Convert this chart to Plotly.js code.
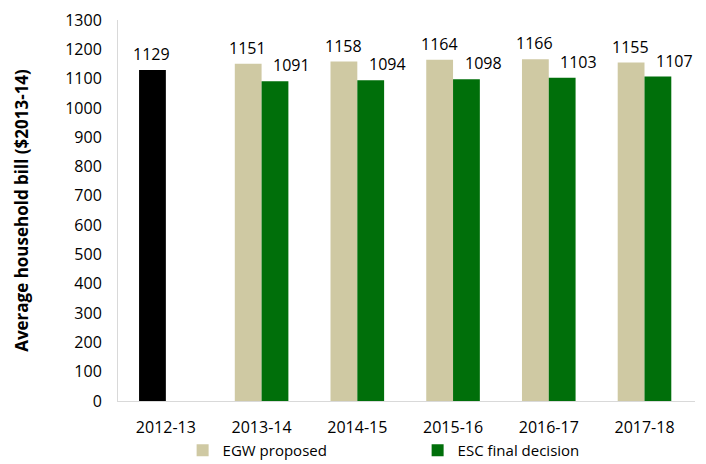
<!DOCTYPE html>
<html><head><meta charset="utf-8">
<script src="https://cdn.plot.ly/plotly-3.0.1.min.js"></script>
<style>html,body{margin:0;padding:0;background:#fff}</style>
</head><body>
<div id="chart" style="width:706px;height:464px"></div>
<script>
const categories = ['2012-13','2013-14','2014-15','2015-16','2016-17','2017-18'];
const actualBill = [1129, null, null, null, null, null];
const egwProposed = [null, 1151, 1158, 1164, 1166, 1155];
const escFinal = [null, 1091, 1094, 1098, 1103, 1107];
const yTicks = [0,100,200,300,400,500,600,700,800,900,1000,1100,1200,1300];

const font = 'Open Sans, sans-serif';
const traces = [
  {type:'bar', name:'2012-13', x:categories, y:actualBill, offsetgroup:'egw', showlegend:false,
   marker:{color:'#000000'}, hoverinfo:'skip'},
  {type:'bar', name:'EGW proposed', x:categories, y:egwProposed, offsetgroup:'egw',
   marker:{color:'#CFC9A3'}, hoverinfo:'skip'},
  {type:'bar', name:'ESC final decision', x:categories, y:escFinal, offsetgroup:'esc',
   marker:{color:'#006F0A'}, hoverinfo:'skip'}
];
const annotations = [];
function addLabels(vals, shift){
  categories.forEach((c,i)=>{
    if (vals[i]!=null) annotations.push({x:c, y:vals[i], xref:'x', yref:'y', text:String(vals[i]),
      showarrow:false, xshift:shift, yanchor:'bottom', yshift:3, font:{family:font,size:16,color:'#000'}});
  });
}
addLabels(actualBill, -14);
addLabels(egwProposed, -14);
addLabels(escFinal, 30);
const layout = {
  width:706, height:464,
  margin:{l:118, r:11, t:20, b:63, autoexpand:false},
  paper_bgcolor:'#fff', plot_bgcolor:'#fff',
  barmode:'group', bargap:0.44, bargroupgap:0,
  font:{family:font, size:16, color:'#000'},
  xaxis:{type:'category', showline:true, linecolor:'#D9D9D9', linewidth:1, ticks:'',
    tickfont:{family:font,size:16,color:'#000'}, showgrid:false, zeroline:false, automargin:false,
    ticklabelstandoff:12},
  yaxis:{range:[0,1300], tickvals:yTicks, showline:true, linecolor:'#D9D9D9', linewidth:1,
    ticks:'', showgrid:false, zeroline:false, tickfont:{family:font,size:16,color:'#000'},
    ticklabelstandoff:12, automargin:false,
    title:{text:'<b>Average household bill ($2013-14)</b>', font:{family:font,size:17,color:'#000'}, standoff:32}},
  showlegend:true,
  legend:{orientation:'h', x:0.112, xanchor:'left', yref:'paper', y:-0.13, yanchor:'middle',
    bgcolor:'rgba(0,0,0,0)',
    font:{family:font,size:15,color:'#000'}, entrywidth:190, entrywidthmode:'pixels', traceorder:'normal'},
  annotations:annotations
};
Plotly.newPlot('chart', traces, layout, {displayModeBar:false, staticPlot:true});
</script>
</body></html>
